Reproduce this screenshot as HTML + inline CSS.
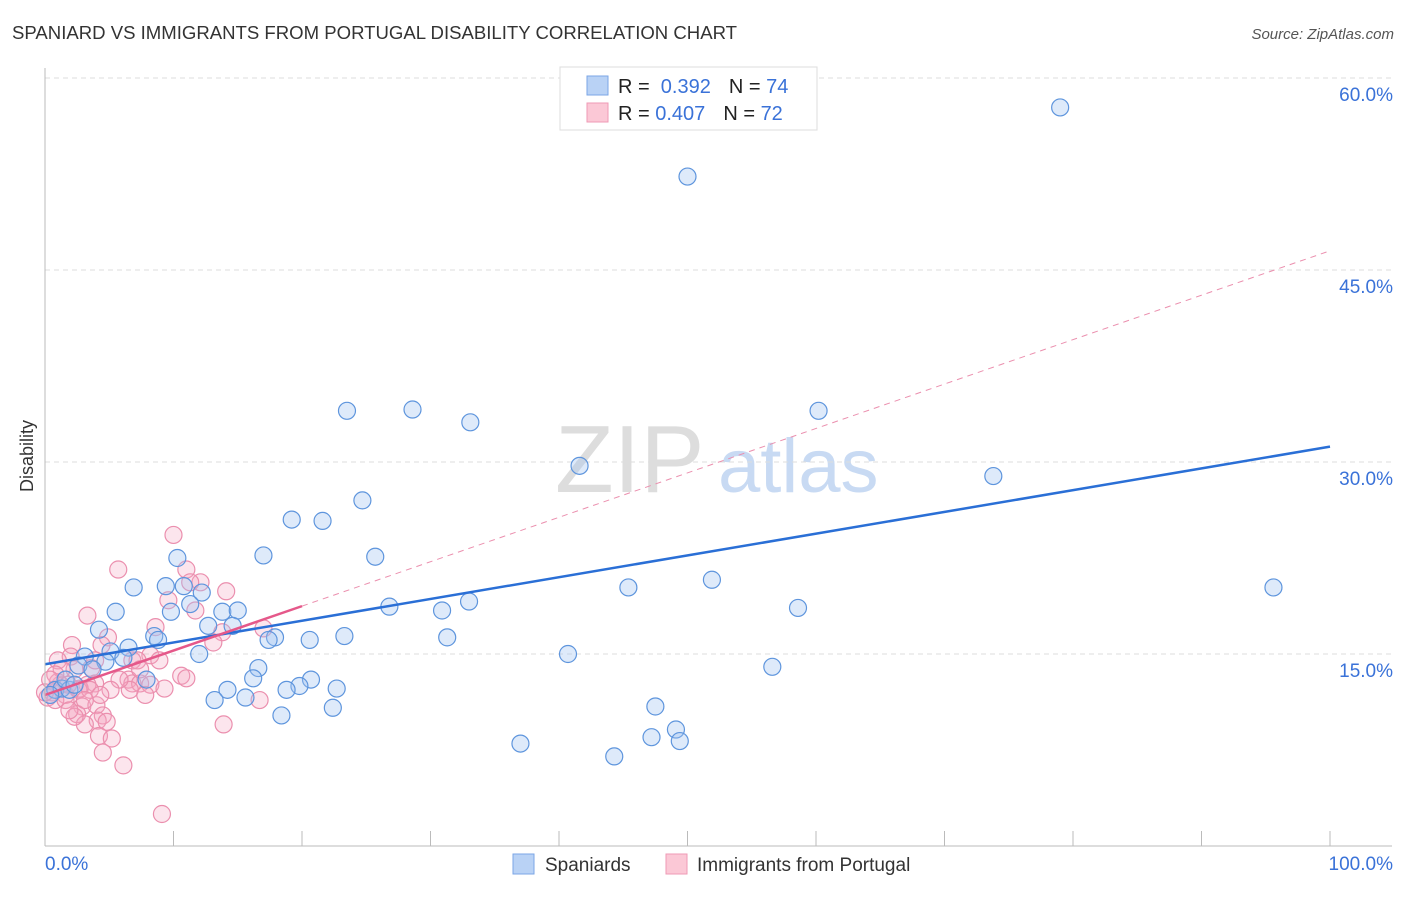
<!DOCTYPE html>
<html><head><meta charset="utf-8"><style>
body{margin:0;background:#fff;font-family:"Liberation Sans",sans-serif}
svg text{font-family:"Liberation Sans",sans-serif}
</style></head><body>
<svg width="1406" height="892" xmlns="http://www.w3.org/2000/svg" id="c">
<text x="12" y="39" font-size="18" fill="#333" textLength="725" lengthAdjust="spacingAndGlyphs">SPANIARD VS IMMIGRANTS FROM PORTUGAL DISABILITY CORRELATION CHART</text>
<text x="1394" y="39" font-size="15" fill="#555" text-anchor="end" font-style="italic">Source: ZipAtlas.com</text>
<text transform="translate(33,456) rotate(-90)" font-size="18" fill="#333" text-anchor="middle">Disability</text>
<g><text x="555" y="492" font-size="96" fill="#ddd" font-family="Liberation Serif">ZIP</text><text x="718" y="492" font-size="76" fill="#c8daf3">atlas</text></g>
<g id="grid"></g><g id="pts"></g><g id="trend"></g>
<line x1="45" y1="68" x2="45" y2="846" stroke="#bbb"/>
<line x1="45" y1="846" x2="1392" y2="846" stroke="#bbb"/>
<text x="45" y="870" font-size="19" fill="#3a72d8">0.0%</text>
<text x="1393" y="870" font-size="19" fill="#3a72d8" text-anchor="end">100.0%</text>
<g>
<rect x="560" y="67" width="257" height="63" fill="#fff" stroke="#ddd"/>
<rect x="587" y="76" width="21" height="19" fill="#b9d2f5" stroke="#7ba6e6"/>
<rect x="587" y="103" width="21" height="19" fill="#fbc8d6" stroke="#ef9ab5"/>
<text x="618" y="93" font-size="20" fill="#222">R = <tspan fill="#3a72d8">&#160;0.392</tspan><tspan dx="18">N = </tspan><tspan fill="#3a72d8">74</tspan></text>
<text x="618" y="120" font-size="20" fill="#222">R = <tspan fill="#3a72d8">0.407</tspan><tspan dx="18">N = </tspan><tspan fill="#3a72d8">72</tspan></text>
</g>
<g>
<rect x="513" y="854" width="21" height="20" fill="#b9d2f5" stroke="#7ba6e6"/>
<text x="545" y="871" font-size="19" fill="#333">Spaniards</text>
<rect x="666" y="854" width="21" height="20" fill="#fbc8d6" stroke="#ef9ab5"/>
<text x="697" y="871" font-size="19" fill="#333">Immigrants from Portugal</text>
</g>
</svg>
<script>
const yTicks=[15,30,45,60];
const yTickLabels=["15.0%","30.0%","45.0%","60.0%"];
const xTicks=[0,10,20,30,40,50,60,70,80,90,100];
const blueX=[79.0,50.0,23.5,28.6,33.1,60.2,41.6,73.8,24.7,19.2,21.6,17.0,25.7,10.3,6.9,9.4,10.8,12.2,45.4,51.9,95.6,26.8,33.0,30.9,58.6,5.5,9.8,11.3,13.8,15.0,12.7,14.6,4.2,8.5,8.8,17.9,17.4,20.6,23.3,31.3,6.5,5.1,12.0,3.1,4.7,6.1,40.7,56.6,16.6,2.6,3.7,16.2,7.9,20.7,19.8,18.8,14.2,22.7,13.2,15.6,47.5,22.4,18.4,49.1,47.2,49.4,37.0,44.3,0.8,1.3,1.9,0.4,1.6,2.3];
const blueY=[57.7,52.3,34.0,34.1,33.1,34.0,29.7,28.9,27.0,25.5,25.4,22.7,22.6,22.5,20.2,20.3,20.3,19.8,20.2,20.8,20.2,18.7,19.1,18.4,18.6,18.3,18.3,18.9,18.3,18.4,17.2,17.2,16.9,16.4,16.1,16.3,16.1,16.1,16.4,16.3,15.5,15.2,15.0,14.8,14.4,14.7,15.0,14.0,13.9,14.1,13.8,13.1,13.0,13.0,12.5,12.2,12.2,12.3,11.4,11.6,10.9,10.8,10.2,9.1,8.5,8.2,8.0,7.0,12.2,12.3,12.2,11.8,13.0,12.6];
const pinkX=[10.0,5.7,11.0,12.1,11.3,14.1,3.3,9.6,11.7,8.6,17.0,4.9,13.8,2.1,4.4,13.1,6.8,8.2,7.2,8.9,2.0,1.0,3.6,10.6,11.0,6.5,6.8,7.4,3.9,3.3,2.7,8.2,9.3,6.6,1.2,0.6,0.2,1.6,1.0,2.6,16.7,2.9,4.0,2.5,4.5,4.1,3.1,4.8,2.3,4.2,5.2,4.5,6.1,13.9,9.1,0.8,1.6,0.0,1.9,7.8,5.8,2.3,3.5,5.1,1.3,4.3,0.8,1.8,3.1,7.4,0.4,3.9];
const pinkY=[24.3,21.6,21.6,20.6,20.6,19.9,18.0,19.2,18.4,17.1,17.0,16.3,16.7,15.7,15.7,15.9,14.5,14.9,14.5,14.5,14.8,14.5,13.9,13.3,13.1,13.0,12.7,12.7,12.7,12.6,12.3,12.6,12.3,12.2,12.6,12.0,11.6,11.8,12.8,12.2,11.4,10.9,11.0,10.3,10.2,9.8,9.5,9.7,10.1,8.6,8.4,7.3,6.3,9.5,2.5,11.4,11.4,12.0,10.6,11.8,13.0,13.8,12.2,12.2,13.8,11.8,13.4,12.6,11.4,13.8,13.0,14.5];
const blueTrend=[14.2,31.2];
const pinkTrend=[11.8,46.5];
const pinkSolidEnd=20;
const NS="http://www.w3.org/2000/svg";
const sx=v=>45+v*12.85, sy=v=>846-v*12.8;
function mk(t,a,p){const e=document.createElementNS(NS,t);for(const k in a)e.setAttribute(k,a[k]);p.appendChild(e);return e;}
const grid=document.getElementById('grid');
yTicks.forEach((t,i)=>{
 const l=mk('line',{x1:45,x2:1392,y1:sy(t),y2:sy(t),stroke:'#ddd','stroke-dasharray':'5,4'},grid);
 
 
 const tx=mk('text',{x:1393,y:sy(t)+23,'font-size':19,fill:'#3a72d8','text-anchor':'end'},grid);
 tx.textContent=yTickLabels[i];
 
 
});
xTicks.forEach(t=>{
 const l=mk('line',{x1:sx(t),x2:sx(t),y1:831,y2:846,stroke:'#bbb'},grid);
 
 
});
const pts=document.getElementById('pts');
pinkX.forEach((x,i)=>{
 const c=mk('circle',{cx:sx(x),cy:sy(pinkY[i]),r:8.5,fill:'rgba(246,168,194,0.3)',stroke:'#eb8fae','stroke-width':1.2},pts);
 
 
});
blueX.forEach((x,i)=>{
 const c=mk('circle',{cx:sx(x),cy:sy(blueY[i]),r:8.5,fill:'rgba(160,196,240,0.35)',stroke:'#5e95dd','stroke-width':1.2},pts);
 
 
});
const tr=document.getElementById('trend');
const pAt=v=>pinkTrend[0]+(pinkTrend[1]-pinkTrend[0])*v/100;
let d=mk('line',{x1:sx(pinkSolidEnd),y1:sy(pAt(pinkSolidEnd)),x2:sx(100),y2:sy(pinkTrend[1]),stroke:'#eb8fae','stroke-width':1,'stroke-dasharray':'6,5'},tr);


d=mk('line',{x1:sx(0),y1:sy(blueTrend[0]),x2:sx(100),y2:sy(blueTrend[1]),stroke:'#2a6fd6','stroke-width':2.5},tr);


d=mk('line',{x1:sx(0),y1:sy(pinkTrend[0]),x2:sx(pinkSolidEnd),y2:sy(pAt(pinkSolidEnd)),stroke:'#e5588a','stroke-width':2.5},tr);


</script>
</body></html>
